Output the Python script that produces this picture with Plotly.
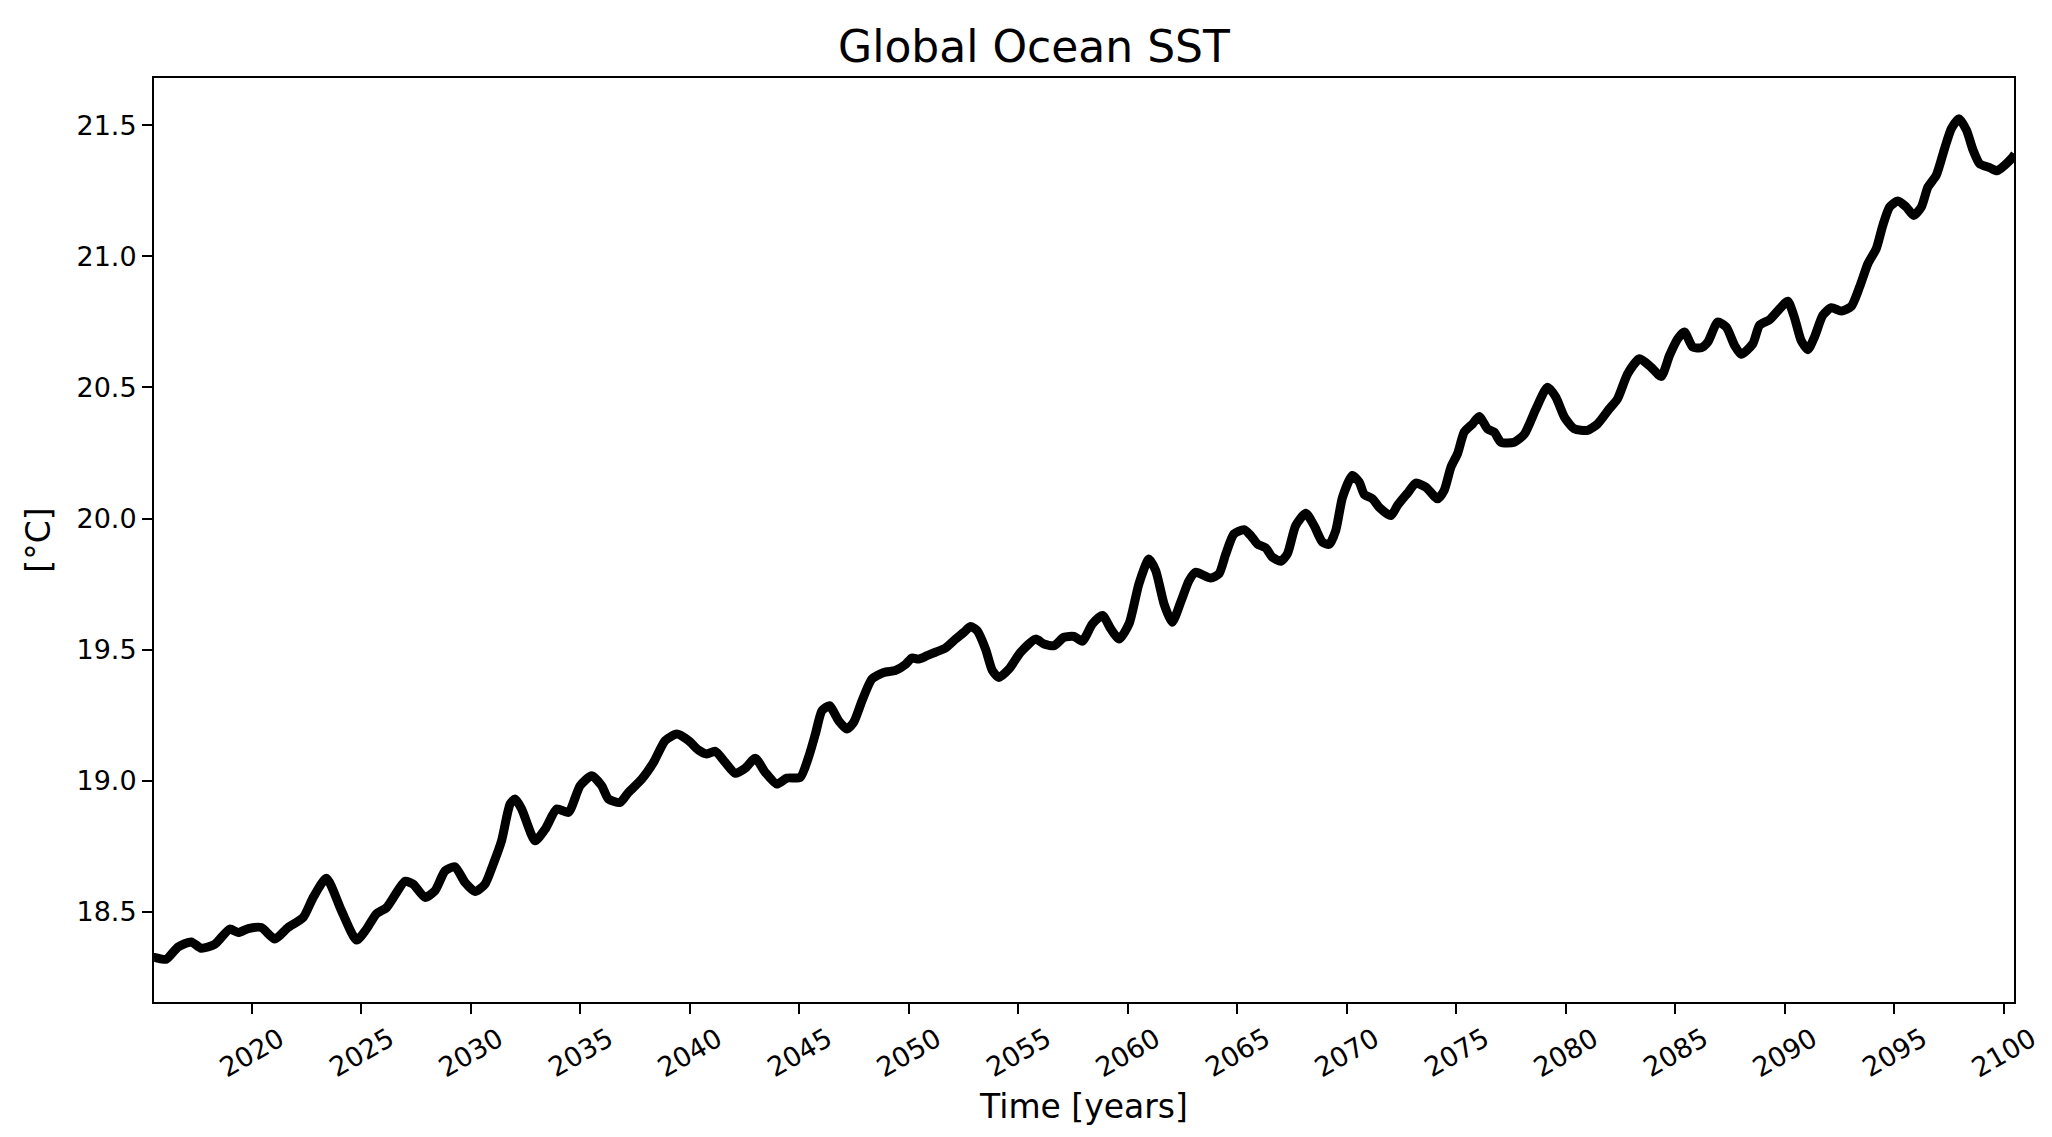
import plotly.graph_objs as go

# values (smoothed global mean SST)
years = [2015.53, 2015.56, 2016.09, 2016.63, 2017.23, 2017.69, 2018.30, 2018.99, 2019.37, 2019.83,
         2020.43, 2021.05, 2021.65, 2022.34, 2022.80, 2023.40, 2024.09, 2024.78, 2025.23, 2025.69,
         2026.15, 2026.99, 2027.37, 2027.90, 2028.36, 2028.82, 2029.27, 2029.73, 2030.19, 2030.64,
         2031.02, 2031.40, 2031.79, 2032.02, 2032.32, 2032.93, 2033.39, 2033.92, 2034.45, 2034.99,
         2035.52, 2035.97, 2036.28, 2036.81, 2037.19, 2037.80, 2038.34, 2038.87, 2039.40, 2039.94,
         2040.39, 2040.77, 2041.16, 2041.61, 2042.07, 2042.53, 2042.98, 2043.44, 2043.97, 2044.43,
         2045.04, 2045.42, 2045.73, 2046.03, 2046.37, 2046.79, 2047.17, 2047.48, 2047.86, 2048.31,
         2048.85, 2049.38, 2049.84, 2050.14, 2050.45, 2050.83, 2051.21, 2051.67, 2052.13, 2052.51,
         2052.81, 2053.12, 2053.50, 2053.81, 2054.11, 2054.57, 2055.10, 2055.79, 2056.17, 2056.63,
         2057.08, 2057.54, 2057.92, 2058.38, 2058.84, 2059.22, 2059.60, 2060.06, 2060.50, 2060.96,
         2061.27, 2061.65, 2062.02, 2062.41, 2062.79, 2063.09, 2063.78, 2064.16, 2064.47, 2064.84,
         2065.30, 2065.61, 2065.91, 2066.29, 2066.60, 2066.98, 2067.28, 2067.66, 2068.12, 2068.50,
         2068.88, 2069.19, 2069.49, 2069.80, 2070.25, 2070.56, 2070.79, 2071.17, 2071.47, 2072.01,
         2072.31, 2072.77, 2073.15, 2073.61, 2074.14, 2074.44, 2074.75, 2075.05, 2075.36, 2075.74,
         2076.04, 2076.42, 2076.73, 2077.03, 2077.64, 2078.10, 2078.63, 2079.16, 2079.54, 2079.93,
         2080.38, 2080.99, 2081.45, 2081.98, 2082.36, 2082.82, 2083.36, 2083.89, 2084.35, 2084.73,
         2085.11, 2085.41, 2085.79, 2086.18, 2086.48, 2086.93, 2087.32, 2087.70, 2088.00, 2088.53,
         2088.84, 2089.30, 2089.76, 2090.13, 2090.44, 2090.74, 2091.05, 2091.35, 2091.73, 2092.12,
         2092.57, 2093.03, 2093.41, 2093.79, 2094.17, 2094.47, 2094.78, 2095.16, 2095.54, 2095.88,
         2096.23, 2096.53, 2096.91, 2097.29, 2097.60, 2097.95, 2098.29, 2098.59, 2098.89, 2099.35,
         2099.69, 2100.03, 2100.41, 2100.50]
sst = [18.326, 18.326, 18.319, 18.366, 18.385, 18.361, 18.376, 18.434, 18.421, 18.436,
       18.440, 18.396, 18.440, 18.478, 18.555, 18.628, 18.504, 18.392, 18.434, 18.493,
       18.516, 18.616, 18.605, 18.555, 18.580, 18.656, 18.672, 18.612, 18.577, 18.605,
       18.682, 18.771, 18.911, 18.930, 18.892, 18.771, 18.815, 18.892, 18.879, 18.981,
       19.019, 18.981, 18.930, 18.917, 18.955, 19.006, 19.070, 19.153, 19.178, 19.153,
       19.117, 19.102, 19.112, 19.070, 19.028, 19.048, 19.086, 19.032, 18.987, 19.010,
       19.013, 19.090, 19.178, 19.267, 19.286, 19.229, 19.197, 19.223, 19.305, 19.388,
       19.413, 19.420, 19.443, 19.468, 19.464, 19.477, 19.490, 19.506, 19.540, 19.566,
       19.588, 19.572, 19.502, 19.420, 19.394, 19.426, 19.490, 19.540, 19.521, 19.515,
       19.547, 19.550, 19.532, 19.598, 19.630, 19.579, 19.540, 19.600, 19.750, 19.846,
       19.801, 19.674, 19.604, 19.681, 19.763, 19.795, 19.773, 19.789, 19.865, 19.941,
       19.957, 19.935, 19.903, 19.888, 19.852, 19.837, 19.865, 19.973, 20.020, 19.973,
       19.910, 19.901, 19.954, 20.081, 20.164, 20.139, 20.092, 20.075, 20.043, 20.011,
       20.050, 20.097, 20.135, 20.119, 20.075, 20.107, 20.196, 20.247, 20.330, 20.361,
       20.389, 20.342, 20.329, 20.291, 20.291, 20.321, 20.418, 20.501, 20.463, 20.387,
       20.342, 20.336, 20.361, 20.418, 20.457, 20.552, 20.609, 20.577, 20.542, 20.622,
       20.686, 20.711, 20.654, 20.651, 20.673, 20.749, 20.730, 20.660, 20.626, 20.666,
       20.737, 20.758, 20.800, 20.829, 20.765, 20.679, 20.644, 20.692, 20.775, 20.804,
       20.791, 20.809, 20.883, 20.972, 21.029, 21.118, 21.188, 21.211, 21.188, 21.156,
       21.188, 21.264, 21.309, 21.411, 21.487, 21.525, 21.481, 21.405, 21.353, 21.338,
       21.326, 21.347, 21.379, 21.390]

xticks = [2020, 2025, 2030, 2035, 2040, 2045, 2050, 2055, 2060, 2065, 2070, 2075, 2080,
          2085, 2090, 2095, 2100]
yticks = [18.5, 19.0, 19.5, 20.0, 20.5, 21.0, 21.5]

font = 'DejaVu Sans'

data = [go.Scatter(x=years, y=sst, mode='lines', line_shape='spline',
                   line={'color': 'black', 'width': 9, 'smoothing': 0.6},
                   showlegend=False, hoverinfo='x+y')]

axis_common = dict(showline=True, linecolor='black', linewidth=2, mirror=True,
                   showgrid=False, zeroline=False, ticks='outside', ticklen=10,
                   tickwidth=2, tickcolor='black',
                   tickfont={'family': font, 'size': 27, 'color': 'black'})

# x tick labels: rotated 30 deg and centred under each tick (matplotlib style)
tick_labels = [dict(x=t, xref='x', y=0, yref='paper', yshift=-50,
                    text=str(t), textangle=-30, showarrow=False,
                    xanchor='center', yanchor='middle',
                    font={'family': font, 'size': 27, 'color': 'black'})
               for t in xticks]

layout = go.Layout(
    width=2052, height=1137,
    paper_bgcolor='white', plot_bgcolor='white',
    margin={'l': 146, 'r': 46, 't': 70, 'b': 143},
    title={'text': 'Global Ocean SST', 'x': 0.5, 'xanchor': 'center',
           'y': 1 - 39 / 1137, 'yanchor': 'middle',
           'font': {'family': font, 'size': 44, 'color': 'black'}},
    xaxis=dict(axis_common, range=[2015.53, 2100.46], tickvals=xticks,
               showticklabels=False,
               title={'text': 'Time [years]', 'standoff': 82,
                      'font': {'family': font, 'size': 33, 'color': 'black'}}),
    yaxis=dict(axis_common, range=[18.156, 21.68], tickvals=yticks,
               ticktext=['{:.1f}'.format(t) for t in yticks],
               title={'text': '[°C]', 'standoff': 16,
                      'font': {'family': font, 'size': 33, 'color': 'black'}}),
    annotations=tick_labels,
)

fig = go.Figure(data=data, layout=layout)
fig.write_html('out.html')
